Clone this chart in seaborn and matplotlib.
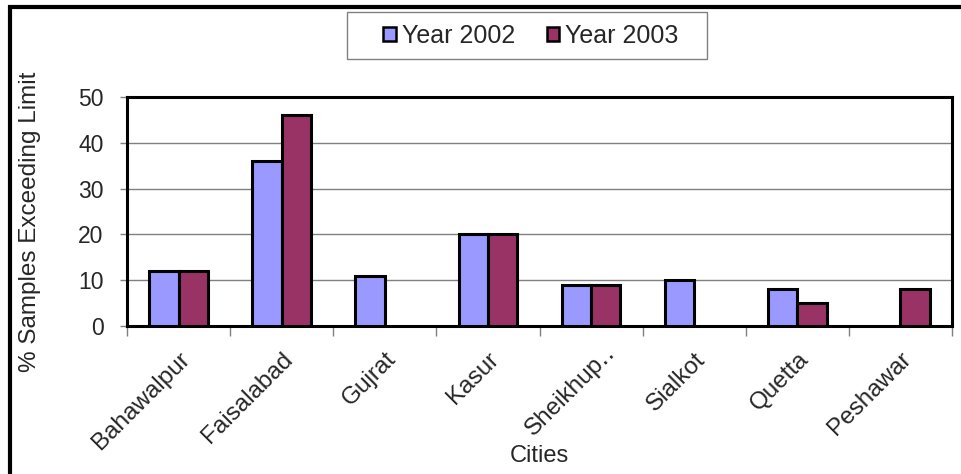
import numpy as np
import pandas as pd
import matplotlib
matplotlib.use("Agg")
import matplotlib.pyplot as plt
import matplotlib.transforms as mtransforms
from matplotlib.patches import Rectangle
from matplotlib.ticker import FixedLocator
import seaborn as sns

cities = ["Bahawalpur", "Faisalabad", "Gujrat", "Kasur", "Sheikhup\u2025",
          "Sialkot", "Quetta", "Peshawar"]
year_2002 = [12, 36, 11, 20, 9, 10, 8, np.nan]
year_2003 = [12, 46, np.nan, 20, 9, np.nan, 5, 8]
series_names = ["Year 2002", "Year 2003"]
y_ticks = [0, 10, 20, 30, 40, 50]

df = pd.DataFrame({
    "city": cities * 2,
    "value": year_2002 + year_2003,
    "series": [series_names[0]] * len(cities) + [series_names[1]] * len(cities),
})

sns.set_theme(style="white")
plt.rcParams["font.family"] = ["Liberation Sans", "DejaVu Sans"]

W, H = 961, 474
fig = plt.figure(figsize=(W / 100, H / 100), dpi=100)
ax = fig.add_axes([127 / W, 1 - 326 / H, (952 - 127) / W, (326 - 97) / H])

palette = {"Year 2002": "#9999FF", "Year 2003": "#993366"}
sns.barplot(data=df, x="city", y="value", hue="series", order=cities,
            hue_order=series_names, palette=palette, width=0.57, gap=0,
            edgecolor="black", linewidth=2.2, saturation=1, ax=ax,
            errorbar=None, zorder=3)

ax.set_xlim(-0.5, len(cities) - 0.5)
ax.set_ylim(0, 50)
ax.set_yticks(y_ticks)
ax.set_yticklabels([str(t) for t in y_ticks], fontsize=16.5)
ax.yaxis.grid(True, color="#808080", linewidth=1, zorder=0)
ax.xaxis.grid(False)

ax.set_xticks(range(len(cities)))
ax.set_xticklabels(cities, fontsize=17.5, rotation=45, ha="right",
                   va="top", rotation_mode="anchor")
ax.tick_params(axis="x", which="major", length=0, pad=16)
ax.xaxis.set_minor_locator(FixedLocator(np.arange(-0.5, len(cities), 1.0)))
ax.tick_params(axis="x", which="minor", bottom=True, length=7, width=1,
               color="#808080", direction="out")
ax.tick_params(axis="y", left=True, length=5, width=1, color="#808080",
               direction="out", pad=12)

# the truncated city name sits a little further right and higher
shift = mtransforms.ScaledTranslation(0.13, 0.07, fig.dpi_scale_trans)
lbl = ax.get_xticklabels()[4]
lbl.set_transform(lbl.get_transform() + shift)

for side in ["left", "right", "top", "bottom"]:
    ax.spines[side].set_visible(True)
    ax.spines[side].set_color("black")
    ax.spines[side].set_linewidth(2.2)

ax.set_xlabel("Cities", fontsize=17, va="center")
ax.xaxis.set_label_coords(0.5, (326 - 456) / 229)
ax.set_ylabel("% Samples Exceeding Limit", fontsize=17.5, va="center")
ax.yaxis.set_label_coords((30 - 127) / 825, (326 - 222) / 229)

# legend entries without their own frame; the box is drawn separately
handles, labels = ax.get_legend_handles_labels()
ax.legend_.remove()
leg = fig.legend(handles, labels, loc="center",
                 bbox_to_anchor=(531 / W, 1 - 36 / H),
                 ncol=2, fontsize=18, frameon=False,
                 handlelength=0.5, handleheight=0.5,
                 handletextpad=0.25, columnspacing=1.25, borderpad=0.3,
                 borderaxespad=0)
for h in leg.legend_handles:
    h.set_linewidth(1.8)
fig.patches.append(Rectangle((347 / W, 1 - 59 / H), (707 - 347) / W, 47 / H,
                             transform=fig.transFigure, fill=False,
                             edgecolor="#808080", linewidth=1))

# chart-area border
fig.patches.append(Rectangle((10 / W, -0.01), 1.0, 1 - 7 / H + 0.01,
                             transform=fig.transFigure, fill=False,
                             edgecolor="black", linewidth=3))

fig.savefig("out.png", dpi=100)
